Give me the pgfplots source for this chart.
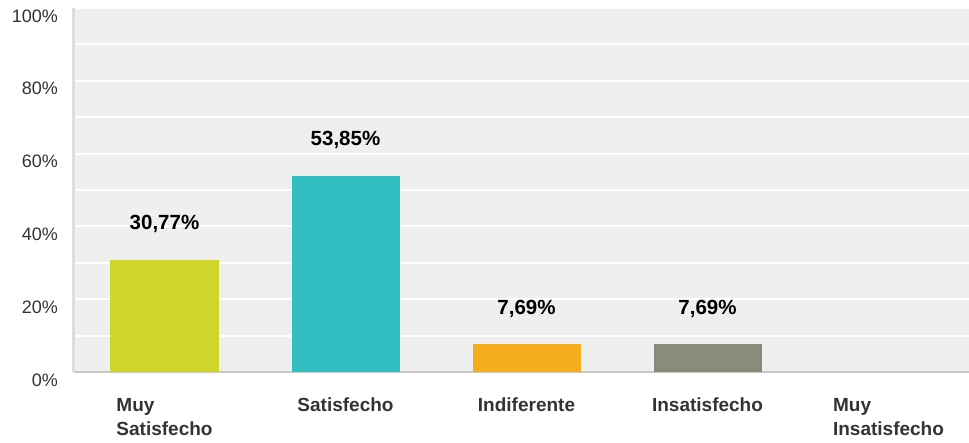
\documentclass[border=0pt]{standalone}
\usepackage{fontspec}
\setmainfont{Liberation Sans}
\usepackage{pgfplots}
\pgfplotsset{compat=1.18}
\definecolor{cA}{HTML}{D0D52A}
\definecolor{cB}{HTML}{33BFC1}
\definecolor{cC}{HTML}{F7AE1E}
\definecolor{cD}{HTML}{8A8B7A}
\definecolor{plotbg}{HTML}{EFEFEF}
\definecolor{labgray}{HTML}{333333}
\definecolor{leftline}{HTML}{DDDDDD}
\definecolor{botline}{HTML}{C8C8C8}
\begin{document}
\begin{tikzpicture}[x=1pt,y=1pt]
\useasboundingbox (-74,-70) rectangle (895,372);
\begin{axis}[
  at={(0,0)}, anchor=south west,
  scale only axis, width=905pt, height=364pt,
  xmin=-0.5, xmax=4.5, ymin=0, ymax=100,
  axis background/.style={fill=plotbg},
  separate axis lines,
  axis x line*=bottom, axis y line*=left,
  x axis line style={draw=botline, line width=1.5pt, -},
  y axis line style={draw=leftline, line width=3pt, -},
  ytick={0,20,...,100}, minor ytick={10,30,...,90},
  ymajorgrids, yminorgrids,
  major grid style={draw=white, line width=2pt},
  minor grid style={draw=white, line width=2pt},
  tick style={draw=none},
  /pgf/number format/assume math mode=true,
  yticklabel={\pgfmathprintnumber{\tick}\%},
  yticklabel style={font=\fontsize{18}{20}\selectfont, text=labgray, anchor=east, inner sep=0pt, xshift=-16pt, yshift=-8pt},
  xtick={0,...,4},
  xticklabels={{Muy\\Satisfecho},Satisfecho,Indiferente,Insatisfecho,{Muy\\Insatisfecho}},
  xticklabel style={align=left, font=\bfseries\fontsize{19}{24}\selectfont, text=labgray, anchor=north, inner sep=0pt, yshift=-26pt},
  nodes near coords={\pgfmathprintnumber[fixed, fixed zerofill, precision=2, use comma]{\pgfplotspointmeta}\%},
  nodes near coords style={anchor=base, yshift=30pt, font=\bfseries\fontsize{20.5}{24}\selectfont, text=black, inner sep=0pt},
]
\addplot[ybar, bar width=108pt, bar shift=0pt, fill=cA, draw=none] coordinates {(0,30.77)};
\addplot[ybar, bar width=108pt, bar shift=0pt, fill=cB, draw=none] coordinates {(1,53.85)};
\addplot[ybar, bar width=108pt, bar shift=0pt, fill=cC, draw=none] coordinates {(2,7.69)};
\addplot[ybar, bar width=108pt, bar shift=0pt, fill=cD, draw=none] coordinates {(3,7.69)};
\end{axis}
\end{tikzpicture}
\end{document}
